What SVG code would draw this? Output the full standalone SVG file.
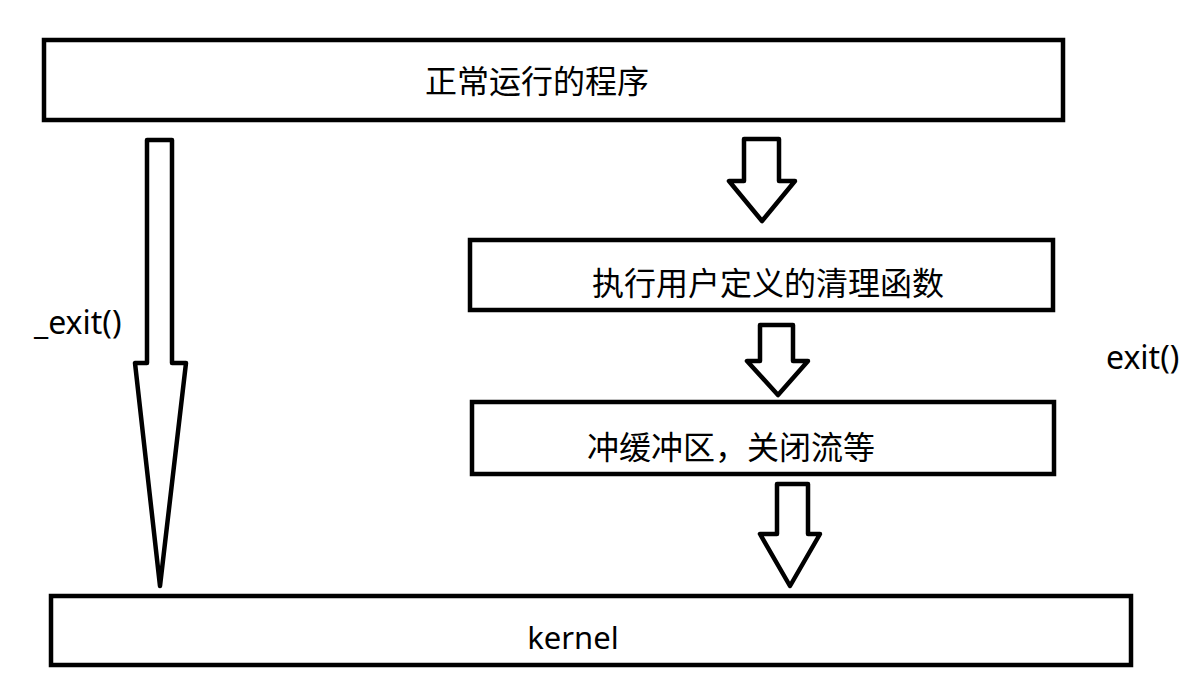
<svg xmlns="http://www.w3.org/2000/svg" width="1193" height="688" viewBox="0 0 1193 688">
<style>
.box{fill:#fff;stroke:#000;stroke-width:4.5}
.arr{fill:#fff;stroke:#000;stroke-width:4.5;stroke-linejoin:round}
.t{font-family:"Noto Sans","Noto Sans CJK SC",sans-serif;font-size:32px;fill:#000}
.c{text-anchor:middle;dominant-baseline:central}
</style>
<rect width="1193" height="688" fill="#fff"/>
<g id="connectors">
<polygon class="arr" points="147,140 172,140 172,363 186,363 160,586 135,363 147,363"/>
<polygon class="arr" points="744,139 779,139 779,181 795,181 762,221 729,181 744,181"/>
<polygon class="arr" points="760,325 793,325 793,361 808,361 778,395 747,361 760,361"/>
<polygon class="arr" points="777,484 808,484 808,534 820,534 790,586 760,534 777,534"/>
</g>
<g id="node-program">
<rect class="box" x="44" y="40" width="1019" height="80"/>
<text class="t c" x="537" y="80">正常运行的程序</text>
</g>
<g id="node-cleanup">
<rect class="box" x="470" y="240" width="583" height="70"/>
<text class="t c" x="768" y="282">执行用户定义的清理函数</text>
</g>
<g id="node-flush">
<rect class="box" x="472" y="402" width="582" height="72"/>
<text class="t c" x="731" y="446">冲缓冲区，关闭流等</text>
</g>
<g id="node-kernel">
<rect class="box" x="51" y="596" width="1080" height="69"/>
<text class="t c" x="573" y="637" style="font-size:31px">kernel</text>
</g>
<g id="labels">
<text class="t" x="34" y="334">_exit()</text>
<text class="t" x="1106" y="369">exit()</text>
</g>
</svg>
